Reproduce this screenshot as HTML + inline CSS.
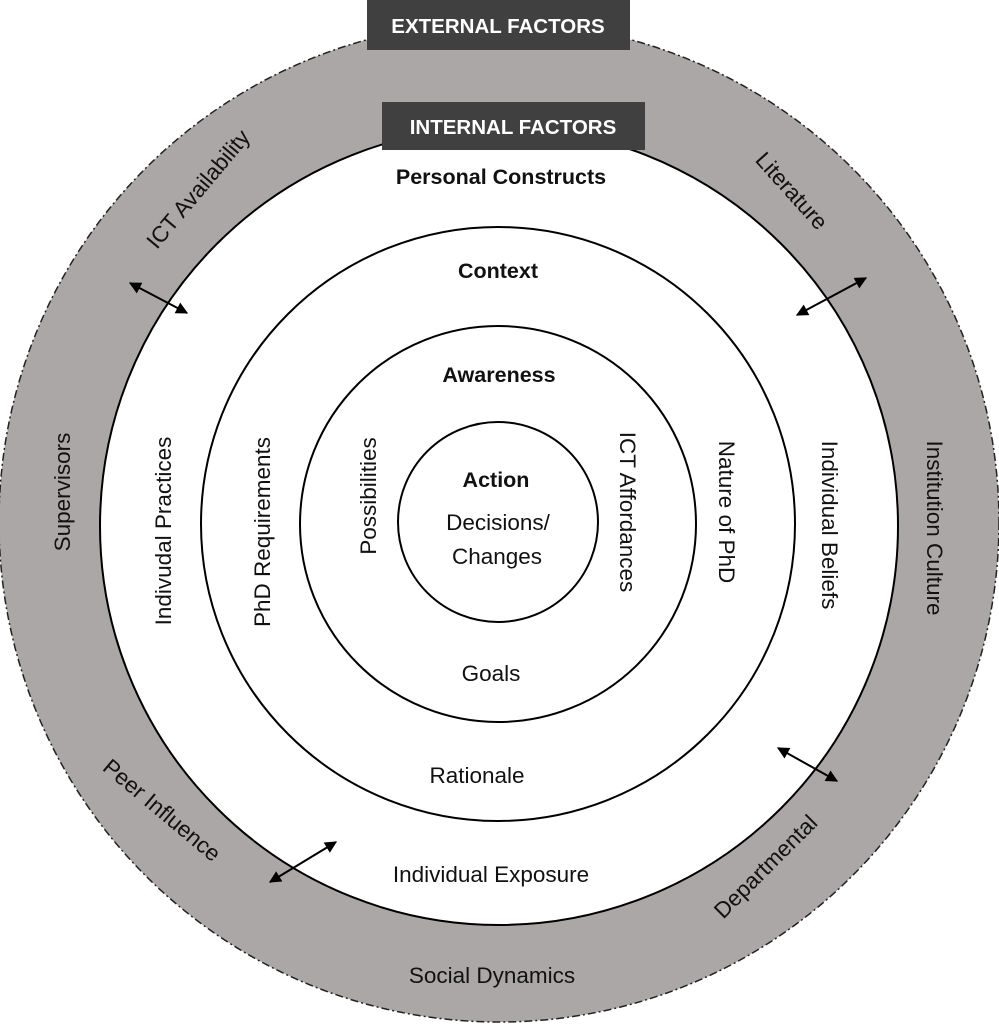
<!DOCTYPE html>
<html><head><meta charset="utf-8"><style>
html,body{margin:0;padding:0;background:#fff;}
svg{display:block;}
text{font-family:"Liberation Sans",sans-serif;font-size:22.5px;fill:#111;}
.b{font-weight:bold;font-size:21.5px;}
.w{fill:#fff;font-weight:bold;font-size:20.5px;}
</style></head><body>
<svg width="999" height="1024" viewBox="0 0 999 1024" xmlns="http://www.w3.org/2000/svg">
<defs>
<marker id="a2" viewBox="0 0 10 10" markerWidth="14" markerHeight="12" refX="9" refY="5" orient="auto-start-reverse" markerUnits="userSpaceOnUse">
<path d="M0,0 L10,5 L0,10 z" fill="#000"/></marker>
</defs>
<circle cx="499" cy="522" r="500" fill="#aba7a6" stroke="#222" stroke-width="1.5" stroke-dasharray="8,3,2,3"/>
<circle cx="499" cy="526" r="399" fill="#fff" stroke="#000" stroke-width="2"/>
<circle cx="498" cy="524" r="297" fill="none" stroke="#000" stroke-width="2"/>
<circle cx="498" cy="524" r="198" fill="none" stroke="#000" stroke-width="2"/>
<circle cx="498" cy="522" r="100" fill="none" stroke="#000" stroke-width="2"/>
<rect x="367" y="0" width="263" height="50" fill="#404040"/>
<text x="498" y="33" text-anchor="middle" class="w">EXTERNAL FACTORS</text>
<rect x="382" y="102" width="263" height="48" fill="#404040"/>
<text x="513" y="134" text-anchor="middle" class="w">INTERNAL FACTORS</text>
<text x="501" y="184" text-anchor="middle" class="b">Personal Constructs</text>
<text x="498" y="278" text-anchor="middle" class="b">Context</text>
<text x="499" y="382" text-anchor="middle" class="b">Awareness</text>
<text x="496" y="487" text-anchor="middle" class="b">Action</text>
<text x="498" y="530" text-anchor="middle">Decisions/</text>
<text x="497" y="564" text-anchor="middle">Changes</text>
<text x="491" y="681" text-anchor="middle">Goals</text>
<text x="477" y="783" text-anchor="middle">Rationale</text>
<text x="491" y="882" text-anchor="middle">Individual Exposure</text>
<text x="492" y="983" text-anchor="middle">Social Dynamics</text>
<text transform="translate(70,492) rotate(-90)" text-anchor="middle">Supervisors</text>
<text transform="translate(171,531) rotate(-90)" text-anchor="middle">Indivudal Practices</text>
<text transform="translate(270,532) rotate(-90)" text-anchor="middle">PhD Requirements</text>
<text transform="translate(376,496) rotate(-90)" text-anchor="middle">Possibilities</text>
<text transform="translate(620,512) rotate(90)" text-anchor="middle">ICT Affordances</text>
<text transform="translate(719,512) rotate(90)" text-anchor="middle">Nature of PhD</text>
<text transform="translate(822,525) rotate(90)" text-anchor="middle">Individual Beliefs</text>
<text transform="translate(927,528) rotate(90)" text-anchor="middle">Institution Culture</text>
<text transform="translate(204,194) rotate(-50)" text-anchor="middle">ICT Availability</text>
<text transform="translate(786,196) rotate(48)" text-anchor="middle">Literature</text>
<text transform="translate(157,816) rotate(40)" text-anchor="middle">Peer Influence</text>
<text transform="translate(771,872) rotate(-45)" text-anchor="middle">Departmental</text>
<g stroke="#000" stroke-width="2" marker-start="url(#a2)" marker-end="url(#a2)">
<line x1="130" y1="283" x2="187" y2="313"/>
<line x1="797" y1="315" x2="866" y2="278"/>
<line x1="778" y1="748" x2="837" y2="781"/>
<line x1="270" y1="882" x2="336" y2="842"/>
</g>
</svg>
</body></html>
